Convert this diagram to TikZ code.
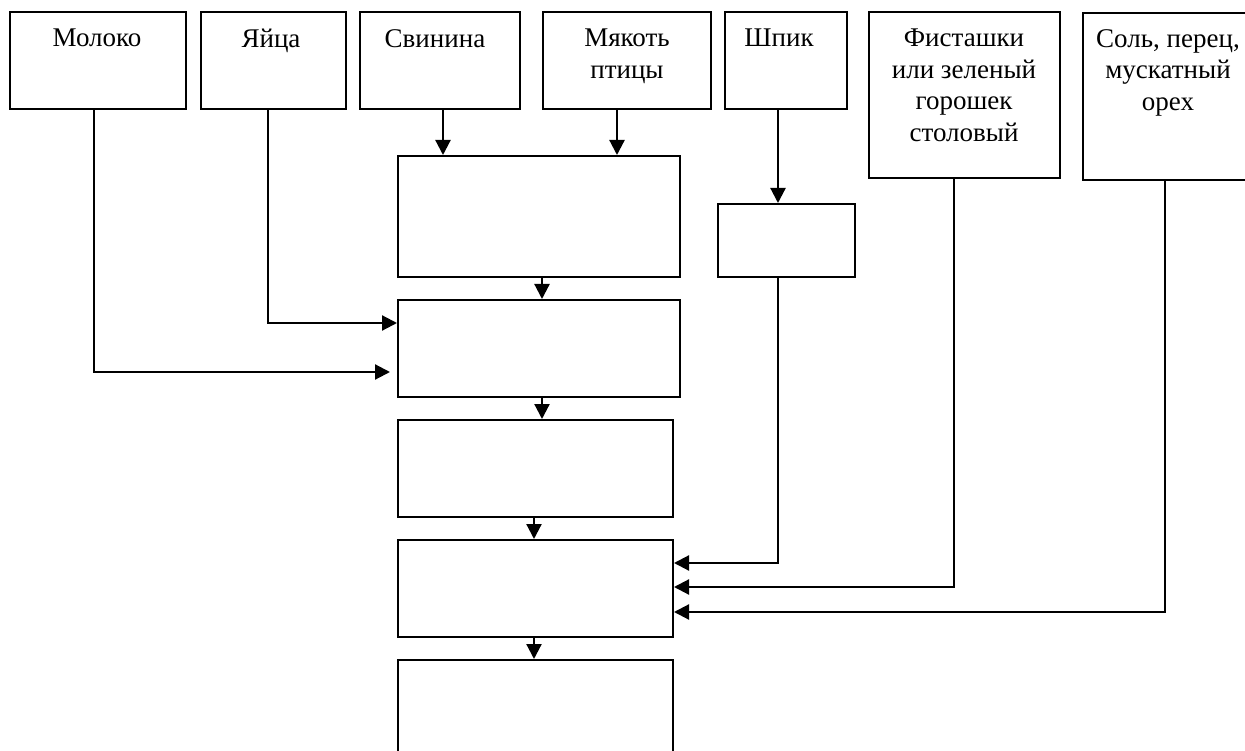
\documentclass[tikz,border=0pt]{standalone}
\usepackage{fontspec}
\setmainfont{Liberation Serif}
\usetikzlibrary{arrows.meta,calc}
\begin{document}
\begin{tikzpicture}[x=1pt,y=-1pt,
  box/.style={draw, line width=2pt, rectangle, anchor=north west, inner sep=0pt},
  lbl/.style={anchor=north, inner sep=0pt, align=center, font=\fontsize{27}{31.5}\selectfont},
  conn/.style={line width=2.2pt, -{Triangle[length=15pt,width=15pt]}}]
\useasboundingbox (0,0) rectangle (1245,751);
% top ingredient boxes
\node[box, minimum width=176pt, minimum height=97pt] (molo) at (9,11) {};
\node[box, minimum width=145pt, minimum height=97pt] (yai) at (200,11) {};
\node[box, minimum width=160pt, minimum height=97pt] (svin) at (359,11) {};
\node[box, minimum width=168pt, minimum height=97pt] (myak) at (542,11) {};
\node[box, minimum width=122pt, minimum height=97pt] (shpik) at (724,11) {};
\node[box, minimum width=191pt, minimum height=166pt] (fist) at (868,11) {};
\node[box, minimum width=172pt, minimum height=167pt] (sol) at (1082,12) {};
% texts
\node[lbl] (tmolo) at (97,29) {Молоко};
\node[lbl] (tyai) at (271,29) {Яйца};
\node[lbl] (tsvin) at (435,29) {Свинина};
\node[lbl] (tmyak) at (627,29) {Мякоть\\птицы};
\node[lbl] (tshpik) at (779,29) {Шпик};
\node[lbl] (tfist) at (964,29) {Фисташки\\или зеленый\\горошек\\столовый};
\node[lbl] (tsol) at (1168,29) {Соль, перец,\\мускатный\\орех};
% process boxes
\node[box, minimum width=282pt, minimum height=121pt] (b1) at (397,155) {};
\node[box, minimum width=282pt, minimum height=97pt] (b2) at (397,299) {};
\node[box, minimum width=275pt, minimum height=97pt] (b3) at (397,419) {};
\node[box, minimum width=275pt, minimum height=97pt] (b4) at (397,539) {};
\node[box, minimum width=275pt, minimum height=110pt] (b5) at (397,659) {};
\node[box, minimum width=137pt, minimum height=73pt] (sm) at (717,203) {};
% connectors
\draw[conn] ($(svin.south west)+(84,0)$) -- ($(b1.north west)+(46,0)$);
\draw[conn] ($(myak.south west)+(75,0)$) -- ($(b1.north west)+(220,0)$);
\draw[conn] ($(shpik.south west)+(54,0)$) -- ($(sm.north west)+(61,0)$);
\draw[conn] ($(b1.south west)+(145,0)$) -- ($(b2.north west)+(145,0)$);
\draw[conn] ($(b2.south west)+(145,0)$) -- ($(b3.north west)+(145,0)$);
\draw[conn] ($(b3.south west)+(137,0)$) -- ($(b4.north west)+(137,0)$);
\draw[conn] ($(b4.south west)+(137,0)$) -- ($(b5.north west)+(137,0)$);
\draw[conn] ($(yai.south west)+(68,0)$) |- ($(b2.north west)+(0,24)$);
\draw[conn, shorten >=7pt] ($(molo.south west)+(85,0)$) |- ($(b2.north west)+(0,73)$);
\draw[conn] ($(sm.south west)+(61,0)$) |- ($(b4.north east)+(0,24)$);
\draw[conn] ($(fist.south west)+(86,0)$) |- ($(b4.north east)+(0,48)$);
\draw[conn] ($(sol.south west)+(83,0)$) |- ($(b4.north east)+(0,73)$);
\end{tikzpicture}
\end{document}
